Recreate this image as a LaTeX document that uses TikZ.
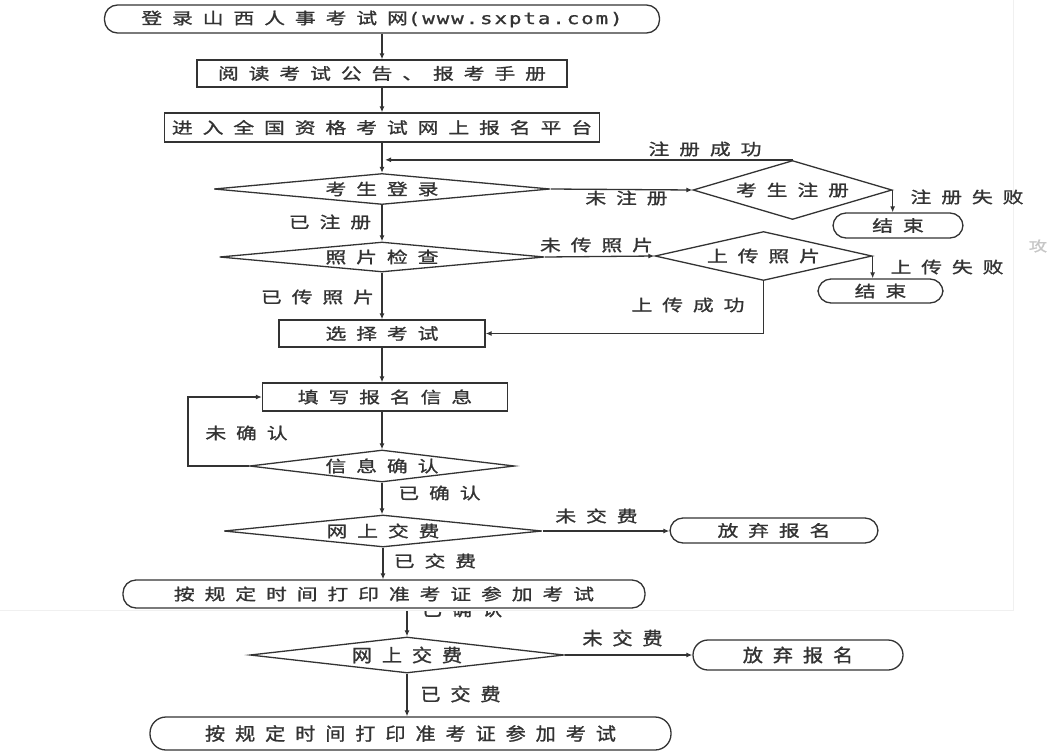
\documentclass[tikz,border=0pt]{standalone}
\usepackage{fontspec}
\usetikzlibrary{shapes.geometric,arrows.meta}
\newfontfamily\cjka[FakeStretch=1.3,FakeBold=1.2,LetterSpace=62]{Noto Sans CJK SC}
\newfontfamily\cjkb[FakeStretch=1.12,FakeBold=1.2,LetterSpace=55]{Noto Sans CJK SC}
\newfontfamily\monoa[FakeStretch=1.3,FakeBold=1,LetterSpace=12]{DejaVu Sans Mono}
\definecolor{ink}{HTML}{333333}
\begin{document}
\begin{tikzpicture}[x=1pt,y=-1pt,
  every node/.style={text=ink, inner sep=0pt},
  ta/.style={font=\cjka\fontsize{16}{16}\selectfont},
  tb/.style={font=\cjkb\fontsize{18}{18}\selectfont},
  boxa/.style={draw=ink, line width=1.3pt, rectangle, ta},
  stad/.style={draw=ink, line width=1.3pt, rectangle, rounded corners=13pt, ta},
  dia/.style={draw=ink, line width=1.3pt, diamond, ta},
  arr/.style={draw=ink, line width=1.3pt, -{Latex[length=6pt,width=5pt]}},
  lab/.style={ta},
  labb/.style={tb},
]
\useasboundingbox[fill=white] (0,0) rectangle (1051,755);
% faint edges of the pasted upper picture
\draw[gray!12, line width=1pt] (0,610.5) -- (1013,610.5) -- (1013,0);
\node[text=gray!45, font=\cjka\fontsize{14}{14}\selectfont] (stray) at (1038,246) {攻};

% ---------- upper chart ----------
\node[stad, minimum width=555, minimum height=28] (n1) at (382,19) {登录山西人事考试网{\monoa(www.sxpta.com)}};
\node[boxa, minimum width=370, minimum height=27] (n2) at (382,73.5) {阅读考试公告、报考手册};
\node[boxa, minimum width=435, minimum height=29] (n3) at (382,127.5) {进入全国资格考试网上报名平台};
\node[dia, shape aspect=10.8, minimum width=336, minimum height=31] (d1) at (382,189) {考生登录};
\node[dia, shape aspect=3.4, minimum width=199, minimum height=59] (d2) at (792.5,190) {考生注册};
\node[stad, minimum width=130, minimum height=25] (e1) at (898,225.5) {结束};
\node[dia, shape aspect=10.8, minimum width=325, minimum height=30] (d3) at (382,257) {照片检查};
\node[dia, shape aspect=4.4, minimum width=217, minimum height=49] (d4) at (763.5,256) {上传照片};
\node[stad, minimum width=125, minimum height=24] (e2) at (880.5,291) {结束};
\node[boxa, minimum width=206, minimum height=27] (s) at (382,333.5) {选择考试};
\node[boxa, minimum width=245, minimum height=28] (f) at (385,397) {填写报名信息};
\node[dia, shape aspect=8.3, minimum width=265, minimum height=32] (d5) at (382,466) {信息确认};
\node[dia, shape aspect=10, minimum width=318, minimum height=32] (d6) at (383,531) {网上交费};
\node[stad, minimum width=208, minimum height=25] (g) at (774,530.5) {放弃报名};
\node[stad, minimum width=522, minimum height=28] (p) at (384,594) {按规定时间打印准考证参加考试};

\node[lab] (l1) at (705,149) {注册成功};
\node[lab] (l2) at (626.5,198) {未注册};
\node[lab] (l3) at (967,197) {注册失败};
\node[lab] (l4) at (330,222) {已注册};
\node[lab] (l5) at (596.5,245) {未传照片};
\node[lab] (l6) at (947,267) {上传失败};
\node[lab] (l7) at (317.5,297) {已传照片};
\node[lab] (l8) at (688,305) {上传成功};
\node[lab] (l9) at (246.5,433) {未确认};
\node[lab] (l10) at (439.5,493) {已确认};
\node[lab] (l11) at (596.5,516) {未交费};
\node[lab] (l12) at (435,561) {已交费};

\draw[arr] (n1.south) -- (n2.north);
\draw[arr] (n2.south) -- (n3.north);
\draw[arr] (n3.south) -- (d1.north);
\draw[arr, shorten >=3pt] (d2.north) -- (d2.north -| n3.south);
\draw[arr] (d1.east) -- (d2.west);
\draw[arr] (d2.east) -- (d2.east |- e1.north);
\draw[arr] (d1.south) -- (d3.north);
\draw[arr] (d3.east) -- (d4.west);
\draw[arr] (d4.east) -- (d4.east |- e2.north);
\draw[arr] (d3.south) -- (s.north);
\draw[arr] (d4.south) |- (s.east);
\draw[arr] (s.south) -- (s.south |- f.north);
\draw[arr] (f.south -| d5.north) -- (d5.north);
\coordinate (lp) at (188,466);
\draw[arr] (d5.west) -- (lp) |- (f.west);
\draw[arr] (d5.south) -- (d5.south |- d6.north);
\draw[arr] (d6.east) -- (d6.east -| g.west);
\draw[arr] (d6.south) -- (d6.south |- p.north);

% ---------- lower (partly covered) chart ----------
\begin{scope}
\clip (380,611) rectangle (560,640);
\node[labb] (l13) at (462,609) {已确认};
\end{scope}
\coordinate (bt) at (407,611);
\node[dia, tb, shape aspect=8.7, minimum width=314, minimum height=36] (d7) at (407,655) {网上交费};
\node[stad, tb, rounded corners=15pt, minimum width=210, minimum height=30] (g2) at (798,655) {放弃报名};
\node[stad, tb, rounded corners=16pt, minimum width=521, minimum height=33] (p2) at (410.5,733.5) {按规定时间打印准考证参加考试};
\node[labb] (l14) at (622.5,638) {未交费};
\node[labb] (l15) at (460.5,694) {已交费};
\draw[arr] (bt) -- (d7.north);
\draw[arr] (d7.east) -- (d7.east -| g2.west);
\draw[arr] (d7.south) -- (d7.south |- p2.north);
\end{tikzpicture}
\end{document}
